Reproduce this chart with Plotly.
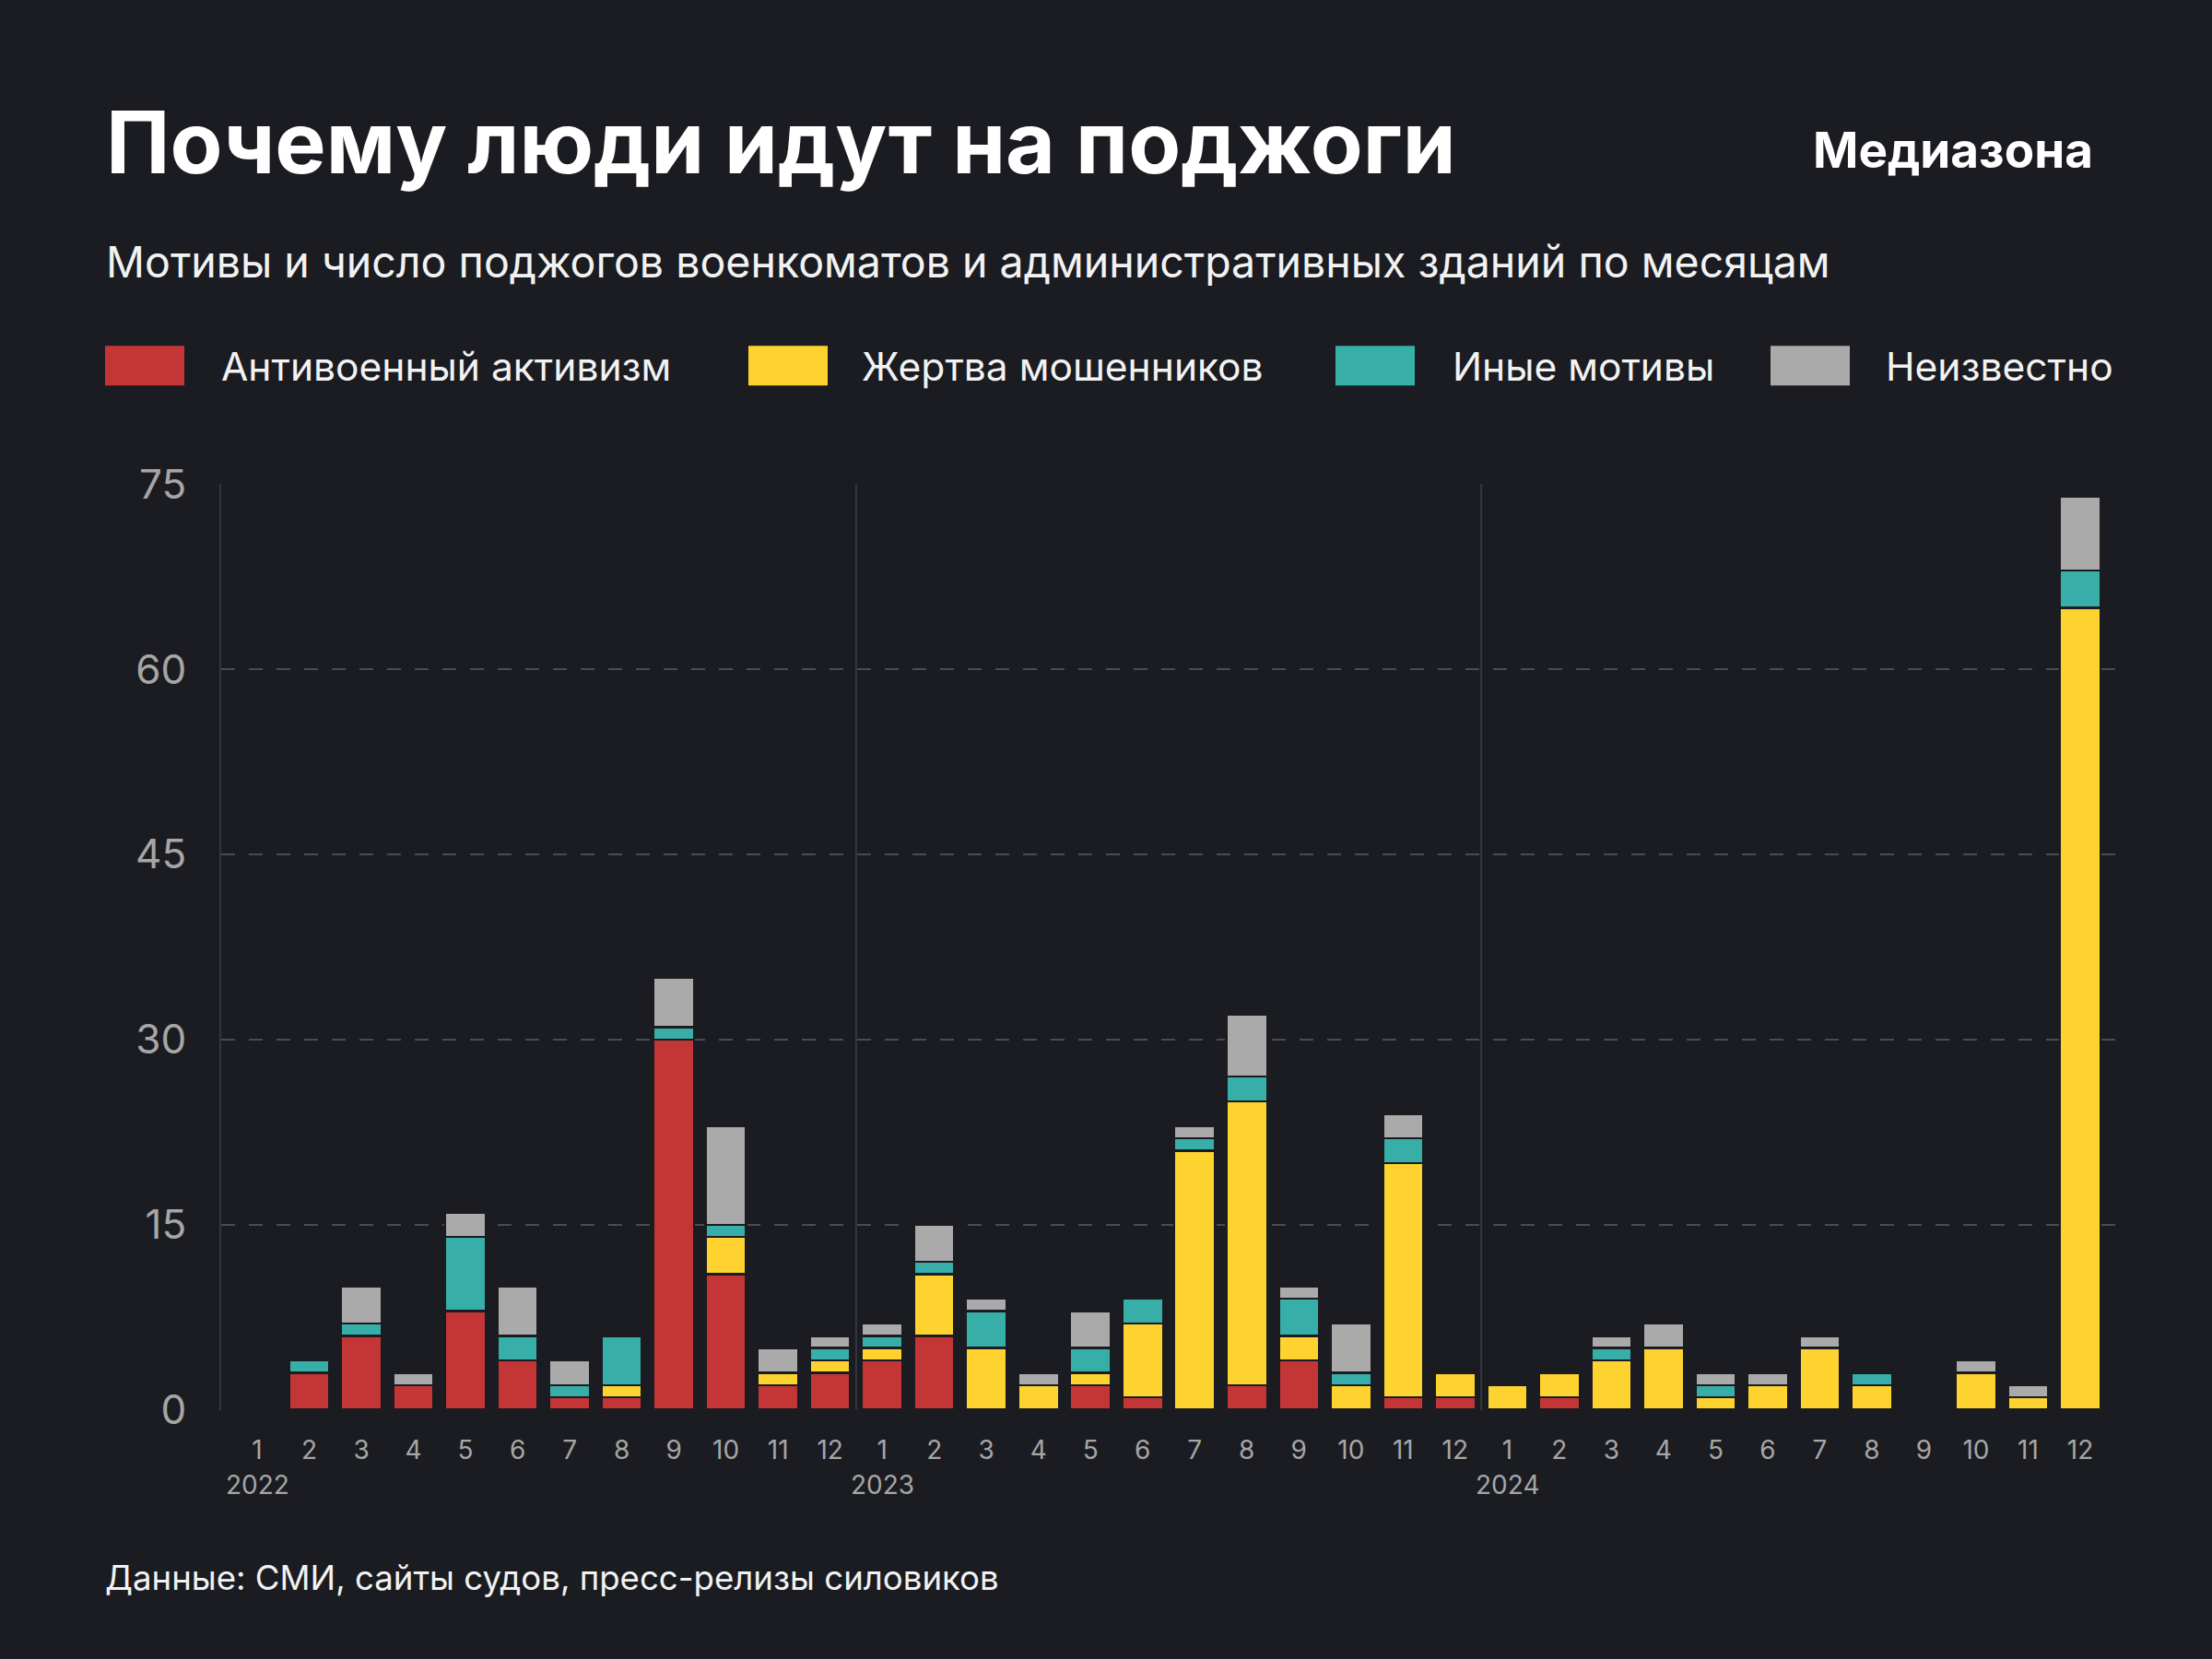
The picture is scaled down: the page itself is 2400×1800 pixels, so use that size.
import plotly.graph_objects as go

# ---- data ----
month_labels = [str(m) for m in range(1, 13)] * 3
year_labels = ["2022", "2023", "2024"]
series_names = ["Антивоенный активизм", "Жертва мошенников", "Иные мотивы", "Неизвестно"]
antiwar = [0, 3, 6, 2, 8, 4, 1, 1, 30, 11, 2, 3,
           4, 6, 0, 0, 2, 1, 0, 2, 4, 0, 1, 1,
           0, 1, 0, 0, 0, 0, 0, 0, 0, 0, 0, 0]
scam = [0, 0, 0, 0, 0, 0, 0, 1, 0, 3, 1, 1,
        1, 5, 5, 2, 1, 6, 21, 23, 2, 2, 19, 2,
        2, 2, 4, 5, 1, 2, 5, 2, 0, 3, 1, 65]
other = [0, 1, 1, 0, 6, 2, 1, 4, 1, 1, 0, 1,
         1, 1, 3, 0, 2, 2, 1, 2, 3, 1, 2, 0,
         0, 0, 1, 0, 1, 0, 0, 1, 0, 0, 0, 3]
unknown = [0, 0, 3, 1, 2, 4, 2, 0, 4, 8, 2, 1,
           1, 3, 1, 1, 3, 0, 1, 5, 1, 4, 2, 0,
           0, 0, 1, 2, 1, 1, 1, 0, 0, 1, 1, 6]
y_ticks = [0, 15, 30, 45, 60, 75]

# ---- style ----
BG = "#1b1c21"
colors = ["#c43636", "#fed330", "#38aea8", "#aaaaaa"]
GRID = "#4a4c52"
TICK = "#a6a6a6"
FONT = "Inter"

W, H = 2400, 1800
L, R, T, B = 240, 2296, 524.7, 1529.7
PW, PH = R - L, B - T


def px(x):
    return (x - L) / PW


def py(y):
    return (B - y) / PH


xs = list(range(len(month_labels)))
fig = go.Figure()
for name, vals, col in zip(series_names, [antiwar, scam, other, unknown], colors):
    fig.add_trace(go.Bar(
        x=xs, y=[v if v else None for v in vals], name=name,
        marker=dict(color=col, line=dict(color=BG, width=2.5)),
        showlegend=False,
    ))

fig.update_layout(
    width=W, height=H,
    paper_bgcolor=BG, plot_bgcolor=BG,
    barmode="stack", bargap=0.22,
    margin=dict(l=L, r=W - R, t=T, b=H - B, autoexpand=False),
    font=dict(family=FONT, color="white"),
    xaxis=dict(
        range=[-0.69, 35.69], tickmode="array", tickvals=xs, ticktext=month_labels,
        tickfont=dict(size=28, color=TICK, family=FONT), showgrid=False, zeroline=False,
        ticks="outside", ticklen=0, ticklabelstandoff=18, showline=False,
    ),
    yaxis=dict(
        range=[-0.03, 75.03], tickmode="array", tickvals=y_ticks,
        tickfont=dict(size=44, color=TICK, family=FONT),
        showgrid=True, gridcolor=GRID, gridwidth=2, griddash="15px,15px",
        zeroline=False, showline=True, linecolor="#35363c", linewidth=2,
        ticks="outside", ticklen=0, ticklabelstandoff=27,
    ),
)

# year separators
for xv in [11.5, 23.5]:
    fig.add_shape(type="line", xref="x", yref="paper", x0=xv, x1=xv, y0=0, y1=1,
                  line=dict(color="#35363c", width=2), layer="below")

ann = []
# title, brand, subtitle, source
ann.append(dict(text="<b>Почему люди идут на поджоги</b>", x=px(113), y=py(154),
                xanchor="left", yanchor="middle",
                font=dict(size=93, color="white", family=FONT, weight=900)))
ann.append(dict(text="<b>Медиазона</b>", x=px(2273), y=py(163),
                xanchor="right", yanchor="middle",
                font=dict(size=53, color="white", family=FONT, weight=900)))
ann.append(dict(text="Мотивы и число поджогов военкоматов и административных зданий по месяцам",
                x=px(113), y=py(284), xanchor="left", yanchor="middle",
                font=dict(size=46.5, color="#f2f2f2", family=FONT)))
ann.append(dict(text="Данные: СМИ, сайты судов, пресс-релизы силовиков",
                x=px(112), y=py(1712), xanchor="left", yanchor="middle",
                font=dict(size=36.6, color="#f2f2f2", family=FONT)))

# legend
sw_x = [114, 812, 1449, 1921]
txt_x = [238, 933, 1574, 2044]
for sx, tx, name, col in zip(sw_x, txt_x, series_names, colors):
    fig.add_shape(type="rect", xref="paper", yref="paper",
                  x0=px(sx), x1=px(sx + 86), y0=py(418), y1=py(375),
                  fillcolor=col, line=dict(width=0))
    ann.append(dict(text=name, x=px(tx), y=py(397), xanchor="left", yanchor="middle",
                    font=dict(size=42.5, color="#f2f2f2", family=FONT)))

# year labels under month ticks
for i, yl in enumerate(year_labels):
    ann.append(dict(text=yl, x=i * 12, xref="x", y=py(1611), yref="paper",
                    xanchor="center", yanchor="middle",
                    font=dict(size=28, color=TICK, family=FONT)))

for a in ann:
    a.setdefault("xref", "paper")
    a.setdefault("yref", "paper")
    a["showarrow"] = False
fig.update_layout(annotations=ann)

fig.write_html(
    "out.html",
    config={"displayModeBar": False},
    post_script="document.body.style.margin='0';document.body.style.padding='0';"
                "document.body.style.background='" + BG + "';",
)
